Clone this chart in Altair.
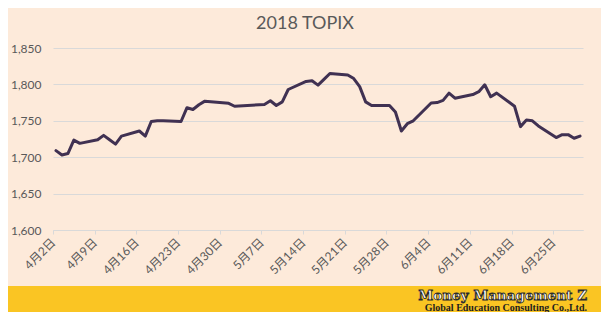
import altair as alt
import pandas as pd

dates = [
    "2018-04-02", "2018-04-03", "2018-04-04", "2018-04-05", "2018-04-06",
    "2018-04-09", "2018-04-10", "2018-04-11", "2018-04-12", "2018-04-13",
    "2018-04-16", "2018-04-17", "2018-04-18", "2018-04-19", "2018-04-20",
    "2018-04-23", "2018-04-24", "2018-04-25", "2018-04-26", "2018-04-27",
    "2018-05-01", "2018-05-02",
    "2018-05-07", "2018-05-08", "2018-05-09", "2018-05-10", "2018-05-11",
    "2018-05-14", "2018-05-15", "2018-05-16", "2018-05-17", "2018-05-18",
    "2018-05-21", "2018-05-22", "2018-05-23", "2018-05-24", "2018-05-25",
    "2018-05-28", "2018-05-29", "2018-05-30", "2018-05-31", "2018-06-01",
    "2018-06-04", "2018-06-05", "2018-06-06", "2018-06-07", "2018-06-08",
    "2018-06-11", "2018-06-12", "2018-06-13", "2018-06-14", "2018-06-15",
    "2018-06-18", "2018-06-19", "2018-06-20", "2018-06-21", "2018-06-22",
    "2018-06-25", "2018-06-26", "2018-06-27", "2018-06-28", "2018-06-29",
]
topix = [
    1709, 1703, 1705, 1723.5, 1719,
    1724, 1730, 1724, 1718, 1729,
    1736, 1729, 1749, 1750, 1750,
    1749, 1768, 1765.5, 1772, 1777,
    1774, 1770,
    1772.5, 1777.5, 1771, 1776, 1793,
    1804, 1805, 1799, 1807, 1815,
    1813, 1808, 1797, 1776, 1771,
    1771, 1762, 1736, 1746, 1750,
    1774.5, 1775, 1778, 1788, 1781,
    1786, 1790, 1799.5, 1783, 1788,
    1770, 1742, 1751, 1750, 1743,
    1727, 1731, 1731, 1726, 1729,
]
# Monday ticks (month, day)
tick_days = [(4, 2), (4, 9), (4, 16), (4, 23), (4, 30), (5, 7), (5, 14),
             (5, 21), (5, 28), (6, 4), (6, 11), (6, 18), (6, 25)]
y_ticks = [1600, 1650, 1700, 1750, 1800, 1850]

title_text = "2018 TOPIX"
brand_main = "Money Management Z"
brand_sub = "Global Education Consulting Co.,Ltd."

df = pd.DataFrame({"date": dates, "value": topix})
one = pd.DataFrame({"k": [0]})

GREY = "#595959"
FONT = "Lato, 'Noto Sans CJK JP', sans-serif"

x_enc = alt.X(
    "date:T",
    scale=alt.Scale(
        type="utc",
        domain=[
            alt.DateTime(year=2018, month=4, date=1, hours=12, utc=True),
            alt.DateTime(year=2018, month=6, date=29, hours=12, utc=True),
        ],
    ),
    axis=alt.Axis(
        title=None,
        values=[alt.DateTime(year=2018, month=m, date=d, utc=True) for m, d in tick_days],
        format="%-m月%-d日",
        labelAngle=-45,
        labelAlign="right",
        labelBaseline="middle",
        labelPadding=6,
        labelFont=FONT,
        labelFontSize=12,
        labelColor=GREY,
        tickOffset=-3,
        tickSize=4,
        tickColor="#D9D9D9",
        domainColor="#D9D9D9",
        grid=False,
        labelFlush=False,
    ),
)
y_enc = alt.Y(
    "value:Q",
    scale=alt.Scale(domain=[1600, 1850], nice=False, zero=False),
    axis=alt.Axis(
        title=None,
        values=y_ticks,
        format=",.0f",
        ticks=False,
        tickSize=0,
        domain=False,
        labelPadding=12,
        labelFont=FONT,
        labelFontSize=12,
        labelColor=GREY,
        gridColor="#D9D9D9",
        gridWidth=1,
    ),
)

line = alt.Chart(df).mark_line(
    color="#403152", strokeWidth=3, strokeJoin="round", strokeCap="round"
).encode(x=x_enc, y=y_enc)

band = alt.Chart(one).mark_rect(color="#FAC523").encode(
    x=alt.value(-45), x2=alt.value(548), y=alt.value(238), y2=alt.value(264)
)

title = alt.Chart(one).mark_text(
    text=title_text, font=FONT, fontSize=18, color=GREY, align="center", baseline="alphabetic"
).encode(x=alt.value(252), y=alt.value(-19.5))

brand = alt.Chart(one).mark_text(
    text=brand_main, font="DejaVu Serif", fontWeight="bold", fontSize=13.5,
    color="#FFFFFF", stroke="#2A2A2A", strokeWidth=0.8,
    align="right", baseline="alphabetic"
).encode(x=alt.value(534), y=alt.value(251.5))
sub = alt.Chart(one).mark_text(
    text=brand_sub, font="Liberation Serif", fontWeight="bold", fontSize=10,
    color="#1E1E1E", align="right", baseline="alphabetic"
).encode(x=alt.value(534), y=alt.value(263))

chart = (
    alt.layer(band, brand, sub, title, line)
    .properties(
        width=530,
        height=182,
        autosize=alt.AutoSizeParams(type="none"),
        padding={"left": 45, "top": 40, "right": 18, "bottom": 82},
    )
    .configure(background="#FDEADA")
    .configure_view(strokeWidth=0)
)

chart.save("out.html", embed_options={"renderer": "svg", "actions": False})
